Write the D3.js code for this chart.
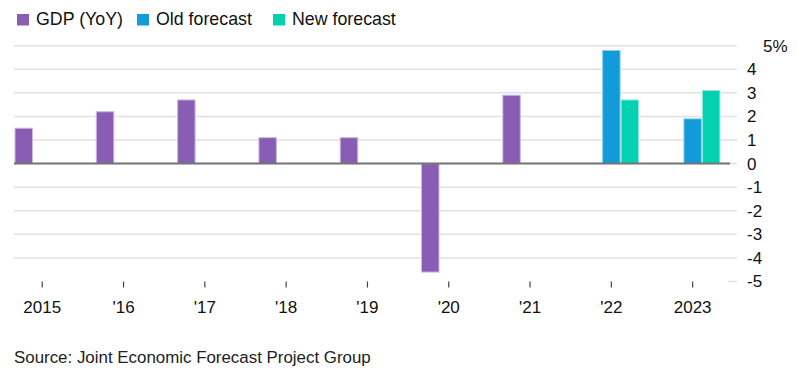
<!DOCTYPE html>
<html>
<head>
<meta charset="utf-8">
<script src="https://cdn.jsdelivr.net/npm/d3@7"></script>
<style>
    body { margin: 0; background: #fff; }
    svg { display: block; font-family: "Liberation Sans", Arial, sans-serif; }
</style>
</head>
<body>
<svg id="chart"></svg>
<script>
// Data
const years = ['2015', '2016', '2017', '2018', '2019', '2020', '2021', '2022', '2023'];
const yearLabels = ['2015', "'16", "'17", "'18", "'19", "'20", "'21", "'22", '2023'];
const gdp = [1.5, 2.2, 2.7, 1.1, 1.1, -4.6, 2.9, null, null];
const oldForecast = [null, null, null, null, null, null, null, 4.8, 1.9];
const newForecast = [null, null, null, null, null, null, null, 2.7, 3.1];
const yTicks = [-5, -4, -3, -2, -1, 0, 1, 2, 3, 4, 5];
const seriesNames = ['GDP (YoY)', 'Old forecast', 'New forecast'];
const seriesColors = ['#8a5db4', '#129bd9', '#03d1b2'];
const seriesEdges = ['#cdb8e3', '#8fd0ef', '#8febdc'];

window.addEventListener('load', () => {
    const width = 797;
    const height = 373;
    const plotLeft = 14;
    const plotRight = 737;

    const svg = d3.select('#chart')
        .attr('width', width)
        .attr('height', height);

    // Scales
    const yScale = d3.scaleLinear().domain([-5, 5]).range([281.5, 45.7]);
    const xScale = d3.scaleBand()
        .domain(years)
        .range([14.5, 720.4])
        .paddingInner(0.3175)
        .paddingOuter(0);
    const subScale = d3.scaleBand()
        .domain(seriesNames)
        .range([0, xScale.bandwidth()]);
    const colorScale = d3.scaleOrdinal().domain(seriesNames).range(seriesColors);
    const edgeScale = d3.scaleOrdinal().domain(seriesNames).range(seriesEdges);

    // Gridlines (the bottom one is only a short stub)
    svg.append('g')
        .selectAll('line')
        .data(yTicks)
        .join('line')
        .attr('x1', d => d === -5 ? plotRight - 9 : plotLeft)
        .attr('x2', plotRight)
        .attr('y1', d => yScale(d))
        .attr('y2', d => yScale(d))
        .attr('stroke', '#e1e1e1')
        .attr('stroke-width', 1.5);

    // Bars
    const rows = [];
    years.forEach((year, i) => {
        [gdp, oldForecast, newForecast].forEach((series, j) => {
            if (series[i] != null) rows.push({ year, key: seriesNames[j], value: series[i] });
        });
    });

    svg.append('g')
        .selectAll('rect')
        .data(rows)
        .join('rect')
        .attr('x', d => xScale(d.year) + subScale(d.key) + 0.5)
        .attr('width', subScale.bandwidth() - 1)
        .attr('y', d => yScale(Math.max(0, d.value)))
        .attr('height', d => Math.abs(yScale(d.value) - yScale(0)))
        .attr('fill', d => colorScale(d.key))
        .attr('stroke', d => edgeScale(d.key))
        .attr('stroke-width', 1);

    // Zero line
    svg.append('line')
        .attr('x1', plotLeft)
        .attr('x2', 730)
        .attr('y1', yScale(0))
        .attr('y2', yScale(0))
        .attr('stroke', '#757575')
        .attr('stroke-width', 2);

    // x axis
    const xAxis = d3.axisBottom(xScale)
        .tickSize(6)
        .tickPadding(13)
        .tickFormat((d, i) => yearLabels[i]);
    const xAxisGroup = svg.append('g')
        .attr('transform', `translate(0,${yScale(-5)})`)
        .call(xAxis);
    xAxisGroup.select('.domain').remove();
    xAxisGroup.selectAll('.tick line').attr('stroke', '#444').attr('stroke-width', 1.2);
    xAxisGroup.selectAll('.tick text')
        .attr('fill', '#111')
        .style('font-size', '17px')
        .style('font-family', '"Liberation Sans", Arial, sans-serif');

    // y axis on the right
    const yAxis = d3.axisRight(yScale)
        .tickValues(yTicks)
        .tickSize(0)
        .tickPadding(10)
        .tickFormat(d => d === 5 ? '5%' : d);
    const yAxisGroup = svg.append('g')
        .attr('transform', `translate(${plotRight},0)`)
        .call(yAxis);
    yAxisGroup.select('.domain').remove();
    yAxisGroup.selectAll('.tick text')
        .attr('fill', '#111')
        .attr('dx', d => d === 5 ? 16 : 0)
        .style('font-size', '17px')
        .style('font-family', '"Liberation Sans", Arial, sans-serif');

    // Legend
    const legendX = [17, 137, 273];
    const legend = svg.append('g')
        .selectAll('g')
        .data(seriesNames)
        .join('g')
        .attr('transform', (d, i) => `translate(${legendX[i]},14)`);
    legend.append('rect')
        .attr('width', 12)
        .attr('height', 11.5)
        .attr('fill', d => colorScale(d));
    legend.append('text')
        .attr('x', 19)
        .attr('y', 11)
        .attr('fill', '#111')
        .style('font-size', '17.8px')
        .text(d => d);

    // Source
    svg.append('text')
        .attr('x', 14)
        .attr('y', 363)
        .attr('fill', '#222')
        .style('font-size', '16.9px')
        .text('Source: Joint Economic Forecast Project Group');
});
</script>
</body>
</html>
